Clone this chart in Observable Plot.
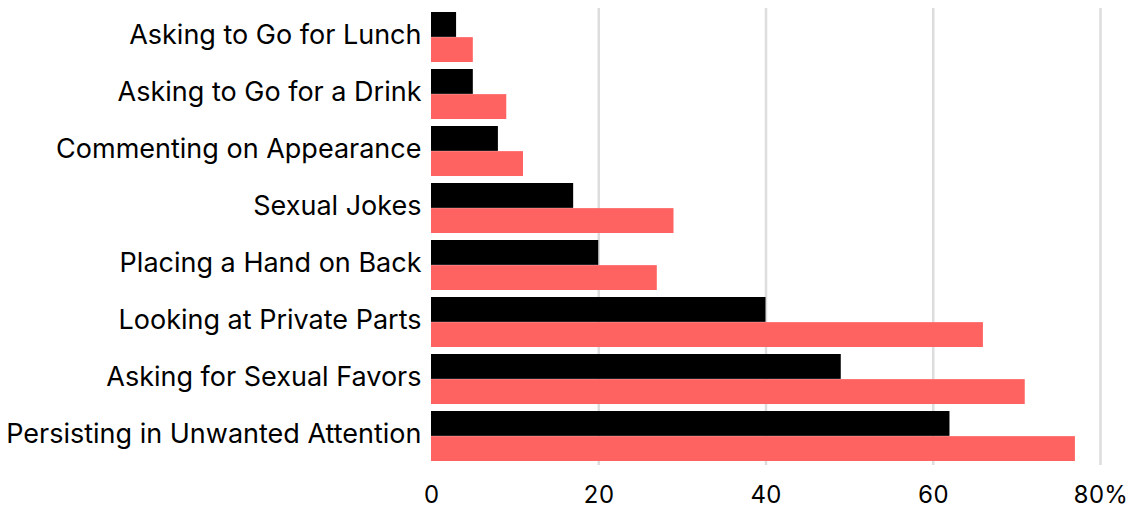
<!DOCTYPE html>
<html>
<head>
<meta charset="utf-8">
<script src="https://cdn.jsdelivr.net/npm/d3@7"></script>
<script src="https://cdn.jsdelivr.net/npm/@observablehq/plot@0.6"></script>
<style>
  html, body { margin: 0; padding: 0; background: #fff; }
</style>
</head>
<body>
<div id="chart"></div>
<script>
const categories = [
  "Asking to Go for Lunch",
  "Asking to Go for a Drink",
  "Commenting on Appearance",
  "Sexual Jokes",
  "Placing a Hand on Back",
  "Looking at Private Parts",
  "Asking for Sexual Favors",
  "Persisting in Unwanted Attention"
];
const seriesBlack = [3, 5, 8, 17, 20, 40, 49, 62];
const seriesRed = [5, 9, 11, 29, 27, 66, 71, 77];
const xTicks = [0, 20, 40, 60, 80];
const xTickLabels = ["0", "20", "40", "60", "80%"];
const gridTicks = [20, 40, 60, 80];

const W = 1133, H = 512;
const mTop = 8, mBottom = 47, mLeft = 431, mRight = 33;
const padInner = 0.12, padOuter = 0.06;
const step = (H - mTop - mBottom) / (categories.length - padInner + 2 * padOuter);
const half = step * (1 - padInner) / 2;

const black = categories.map((c, i) => ({category: c, value: seriesBlack[i]}));
const red = categories.map((c, i) => ({category: c, value: seriesRed[i]}));

const chart = Plot.plot({
  width: W,
  height: H,
  marginTop: mTop,
  marginBottom: mBottom,
  marginLeft: mLeft,
  marginRight: mRight,
  style: {fontFamily: "Inter, 'Liberation Sans', sans-serif", background: "#fff", color: "#000"},
  x: {domain: [0, 80]},
  y: {domain: categories, paddingInner: padInner, paddingOuter: padOuter},
  marks: [
    Plot.ruleX(gridTicks, {stroke: "#dddddd", strokeWidth: 2.5}),
    Plot.barX(black, {x: "value", y: "category", fill: "#000000", insetBottom: half, insetTop: 0}),
    Plot.barX(red, {x: "value", y: "category", fill: "#ff6361", insetTop: half, insetBottom: 0}),
    Plot.axisX({ticks: xTicks, tickSize: 0, tickPadding: 20, fontSize: 24,
      tickFormat: d => xTickLabels[xTicks.indexOf(d)], label: null}),
    Plot.axisY({tickSize: 0, tickPadding: 10, fontSize: 27, dy: -2, label: null})
  ]
});
document.getElementById("chart").appendChild(chart);
</script>
</body>
</html>
